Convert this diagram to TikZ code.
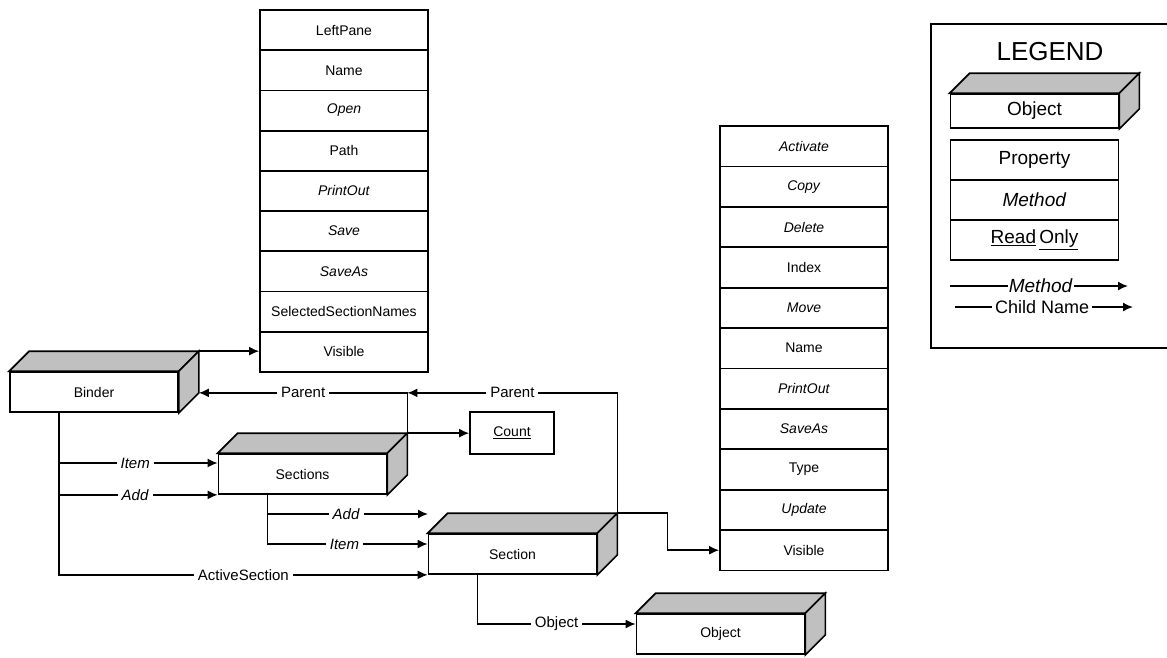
\documentclass[tikz,border=0pt]{standalone}
\usepackage{fontspec}
\setmainfont{Liberation Sans}
\usetikzlibrary{arrows.meta,calc}
\definecolor{boxgray}{HTML}{C0C0C0}
\tikzset{
  prop/.style={draw, line width=1.7pt, minimum width=168pt, minimum height=40.3pt, inner sep=0pt, font=\fontsize{14}{16}\selectfont},
  obj/.style={draw, line width=1.7pt, fill=white, minimum width=168pt, minimum height=40pt, inner sep=0pt, font=\fontsize{14}{16}\selectfont},
  lbl/.style={fill=white, inner sep=4pt, font=\fontsize{15}{17}\selectfont},
  arr/.style={line width=1.6pt, -{Latex[length=10pt,width=9pt]}}
}

\begin{document}
\begin{tikzpicture}[x=1pt,y=-1pt]
      \useasboundingbox (0,0) rectangle (1167,657);
      \clip (0,0) rectangle (1167,657);
      \node[obj] (binder) at (94,392) {Binder};
      \node[obj] (sections) at (302.5,474) {Sections};
      \node[obj] (section) at (512.5,554) {Section};
      \node[obj] (object) at (720.5,634) {Object};
      \node[obj, minimum height=34pt, font=\fontsize{19}{21}\selectfont] (legobj) at (1034.5,111) {Object};
      \foreach \n in {binder,sections,section,object,legobj}{
        \draw[line width=1.7pt, fill=boxgray] (\n.north west) -- ++(20,-20) -- ($(\n.north east)+(20,-20)$) -- (\n.north east) -- cycle;
        \draw[line width=1.7pt, fill=boxgray] (\n.north east) -- ++(20,-20) -- ($(\n.south east)+(20,-20)$) -- (\n.south east) -- cycle;
        \coordinate (\n-bt) at ($(\n.north east)+(20,-20)$);
        \coordinate (\n-bb) at ($(\n.south east)+(20,-20)$);
      }
      \foreach \t [count=\i] in {LeftPane,Name,\textit{Open},Path,\textit{PrintOut},\textit{Save},\textit{SaveAs},SelectedSectionNames,Visible}
        \node[prop] (bp\i) at (344,{10+40.2*(\i-0.5)}) {\t};
      \foreach \t [count=\i] in {\textit{Activate},\textit{Copy},\textit{Delete},Index,\textit{Move},Name,\textit{PrintOut},\textit{SaveAs},Type,\textit{Update},Visible}
        \node[prop] (sp\i) at (804,{126+40.4*(\i-0.5)}) {\t};
      \node[prop, minimum width=84pt, minimum height=42pt] (count) at (512,433) {\underline{Count}};

      \coordinate (bstem) at ($(binder.south west)+(50,0)$);
      \coordinate (sstem) at ($(sections.south west)+(50,0)$);
      \coordinate (secstem) at ($(section.south west)+(50,0)$);
      \coordinate (pj) at (sections-bt |- binder-bb);
      \coordinate (addend) at (428,514);

      \draw[arr] (binder-bt) -- (binder-bt -| bp9.west);
      \draw[arr] (sections-bt) |- node[lbl, pos=0.75] {Parent} (binder-bb);
      \draw[arr] (section-bt) |- node[lbl, pos=0.75] {Parent} (pj);
      \draw[arr] (sections-bt) -- (sections-bt -| count.west);
      \draw[arr] (bstem |- 0,463) -- node[lbl, pos=0.48] {\textit{Item}} (sections.west |- 0,463);
      \draw[arr] (bstem |- sections.south) -- node[lbl, pos=0.48] {\textit{Add}} (sections.south west);
      \draw[arr] (bstem) |- node[lbl, pos=0.75] {ActiveSection} (section.south west);
      \draw[arr] (sstem |- addend) -- node[lbl, pos=0.49] {\textit{Add}} (addend);
      \draw[arr] (sstem) |- node[lbl, pos=0.74] {\textit{Item}} (section.west |- 0,544);
      \draw[arr] (section-bt) -- ++(50,0) |- (sp11.west);
      \draw[arr] (secstem) |- node[lbl, pos=0.75] {Object} (object.west |- 0,624);

      \node[draw, line width=1.5pt, minimum width=250pt, minimum height=324pt, anchor=north west] (legend) at (930,23) {};
      \node[font=\fontsize{26}{28}\selectfont] (legtitle) at (1050,52) {LEGEND};
      \foreach \t [count=\i] in {Property,\textit{Method},\underline{Read}\,\underline{Only}}
        \node[prop, minimum height=40pt, font=\fontsize{19}{21}\selectfont] (lp\i) at (1034.5,{140+40*(\i-0.5)}) {\t};
      \coordinate (lm1) at (950,286);
      \coordinate (lm2) at (1128,286);
      \coordinate (lc1) at (955,307);
      \coordinate (lc2) at (1133,307);
      \draw[arr] (lm1) -- node[lbl, inner sep=1pt, pos=0.51, font=\fontsize{19}{21}\selectfont] {\textit{Method}} (lm2);
      \draw[arr] (lc1) -- node[lbl, inner sep=3pt, pos=0.49, font=\fontsize{18}{20}\selectfont] {Child Name} (lc2);
\end{tikzpicture}
\end{document}
